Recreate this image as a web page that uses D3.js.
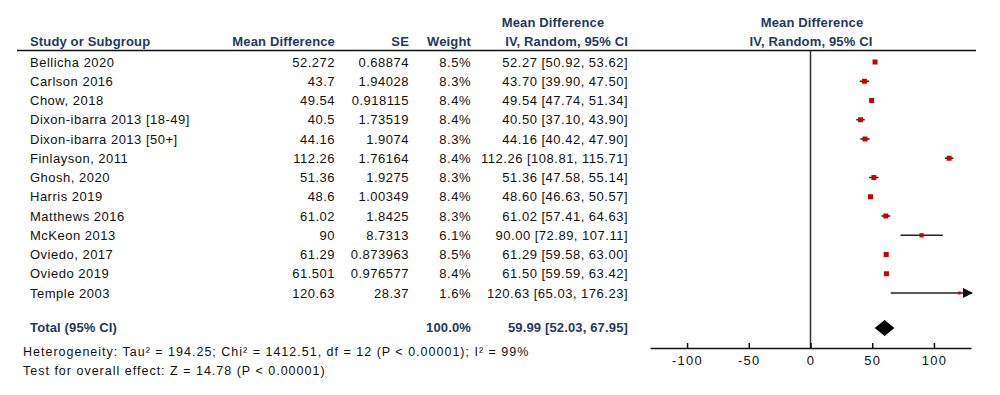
<!DOCTYPE html>
<html>
<head>
<meta charset="utf-8">
<script src="https://cdn.jsdelivr.net/npm/d3@7"></script>
<style>
  body { margin: 0; background: #fff; }
  svg { font-family: "Liberation Sans", Arial, sans-serif; }
  .hdr { font-weight: bold; fill: #233a5e; font-size: 13px; letter-spacing: 0.15px; }
  .row { font-size: 13px; fill: #111; letter-spacing: 0.5px; }
  .foot { font-size: 12.5px; fill: #111; letter-spacing: 1px; }
</style>
</head>
<body>
<div id="wrapper"></div>
<script>
// study data
let studies = ["Bellicha 2020","Carlson 2016","Chow, 2018","Dixon-ibarra 2013 [18-49]","Dixon-ibarra 2013 [50+]",
  "Finlayson, 2011","Ghosh, 2020","Harris 2019","Matthews 2016","McKeon 2013","Oviedo, 2017","Oviedo 2019","Temple 2003"];
let meanDiff = ["52.272","43.7","49.54","40.5","44.16","112.26","51.36","48.6","61.02","90","61.29","61.501","120.63"];
let se = ["0.68874","1.94028","0.918115","1.73519","1.9074","1.76164","1.9275","1.00349","1.8425","8.7313","0.873963","0.976577","28.37"];
let weight = [8.5,8.3,8.4,8.4,8.3,8.4,8.3,8.4,8.3,6.1,8.5,8.4,1.6];
let est = [52.27,43.70,49.54,40.50,44.16,112.26,51.36,48.60,61.02,90.00,61.29,61.50,120.63];
let lo = [50.92,39.90,47.74,37.10,40.42,108.81,47.58,46.63,57.41,72.89,59.58,59.59,65.03];
let hi = [53.62,47.50,51.34,43.90,47.90,115.71,55.14,50.57,64.63,107.11,63.00,63.42,176.23];
let total = {est: 59.99, lo: 52.03, hi: 67.95, weight: "100.0%"};
let xTicks = [-100,-50,0,50,100];

const W = 1000, H = 395;
var svg = d3.select("#wrapper").append("svg").attr("width", W).attr("height", H);

var x = d3.scaleLinear().domain([-130, 130]).range([650, 971]);
var y = d3.scalePoint().domain(studies).range([62, 293]);
var side = d3.scaleSqrt().domain([0, 8.5]).range([0, 5]);
const sq = w => Math.max(2.8, side(w));

const fmt = v => v.toFixed(2);

// headers
svg.append("text").attr("class","hdr").attr("x",553).attr("y",27).attr("text-anchor","middle").text("Mean Difference");
svg.append("text").attr("class","hdr").attr("x",812).attr("y",27).attr("text-anchor","middle").text("Mean Difference");
svg.append("text").attr("class","hdr").attr("x",30).attr("y",46).text("Study or Subgroup");
svg.append("text").attr("class","hdr").attr("x",335).attr("y",46).attr("text-anchor","end").text("Mean Difference");
svg.append("text").attr("class","hdr").attr("x",409).attr("y",46).attr("text-anchor","end").text("SE");
svg.append("text").attr("class","hdr").attr("x",471).attr("y",46).attr("text-anchor","end").text("Weight");
svg.append("text").attr("class","hdr").attr("x",628).attr("y",46).attr("text-anchor","end").text("IV, Random, 95% CI");
svg.append("text").attr("class","hdr").attr("x",811).attr("y",46).attr("text-anchor","middle").text("IV, Random, 95% CI");

svg.append("line").attr("x1",17).attr("x2",976).attr("y1",50.5).attr("y2",50.5)
  .attr("stroke","#111").attr("stroke-width",1.5);

// table rows
var rows = svg.selectAll(".r").data(studies).enter().append("g")
  .attr("transform", d => "translate(0," + (y(d) + 4.5) + ")");
rows.append("text").attr("class","row").attr("x",30).text(d => d);
rows.append("text").attr("class","row").attr("x",335).attr("text-anchor","end").text((d,i) => meanDiff[i]);
rows.append("text").attr("class","row").attr("x",409).attr("text-anchor","end").text((d,i) => se[i]);
rows.append("text").attr("class","row").attr("x",471).attr("text-anchor","end").text((d,i) => weight[i].toFixed(1) + "%");
rows.append("text").attr("class","row").attr("x",628).attr("text-anchor","end")
  .text((d,i) => fmt(est[i]) + " [" + fmt(lo[i]) + ", " + fmt(hi[i]) + "]");

// total
svg.append("text").attr("class","hdr").attr("x",30).attr("y",332).text("Total (95% CI)");
svg.append("text").attr("class","hdr").attr("x",471).attr("y",332).attr("text-anchor","end").text(total.weight);
svg.append("text").attr("class","hdr").attr("x",628).attr("y",332).attr("text-anchor","end")
  .text(fmt(total.est) + " [" + fmt(total.lo) + ", " + fmt(total.hi) + "]");
svg.append("text").attr("class","foot").attr("x",23).attr("y",356)
  .text("Heterogeneity: Tau\u00b2 = 194.25; Chi\u00b2 = 1412.51, df = 12 (P < 0.00001); I\u00b2 = 99%");
svg.append("text").attr("class","foot").attr("x",23).attr("y",375)
  .text("Test for overall effect: Z = 14.78 (P < 0.00001)");

// forest plot
var axisY = 348;
svg.append("line").attr("x1",x(0)).attr("x2",x(0)).attr("y1",50.5).attr("y2",axisY)
  .attr("stroke","#333").attr("stroke-width",1.5);

svg.append("defs").append("marker").attr("id","arr").attr("viewBox","0 0 10 10")
  .attr("refX",9).attr("refY",5).attr("markerWidth",10).attr("markerHeight",10).attr("orient","auto")
  .attr("markerUnits","userSpaceOnUse")
  .append("path").attr("d","M0,0L10,5L0,10Z").attr("fill","#111");

var ci = svg.selectAll(".ci").data(studies).enter().append("line")
  .attr("x1", (d,i) => x(Math.max(lo[i], -130)))
  .attr("x2", (d,i) => x(Math.min(hi[i], 130)) + (hi[i] > 130 ? 1 : 0))
  .attr("y1", d => y(d)).attr("y2", d => y(d))
  .attr("stroke","#222").attr("stroke-width",1.5)
  .attr("marker-end", (d,i) => hi[i] > 130 ? "url(#arr)" : null);

svg.selectAll(".sq").data(studies).enter().append("rect")
  .attr("x", (d,i) => x(est[i]) - sq(weight[i]) / 2)
  .attr("y", (d,i) => y(d) - sq(weight[i]) / 2)
  .attr("width", (d,i) => sq(weight[i]))
  .attr("height", (d,i) => sq(weight[i]))
  .attr("fill","#cc0000");

var dy = 328;
svg.append("path")
  .attr("d", d3.line()([[x(total.lo),dy],[x(total.est),dy-8],[x(total.hi),dy],[x(total.est),dy+8]]) + "Z")
  .attr("fill","#000");

var xAxis = d3.axisBottom(x).tickValues(xTicks).tickSizeInner(-5).tickSizeOuter(0).tickPadding(8)
  .tickFormat(d => String(d));
var ax = svg.append("g").attr("transform","translate(0," + axisY + ")").call(xAxis);
ax.select(".domain").attr("stroke","#111").attr("stroke-width",1.5);
ax.selectAll(".tick line").attr("stroke","#111").attr("stroke-width",1.5);
ax.selectAll(".tick text").attr("font-size",13).attr("fill","#111").attr("letter-spacing","1.3px")
  .attr("font-family","Liberation Sans, Arial, sans-serif");
</script>
</body>
</html>
